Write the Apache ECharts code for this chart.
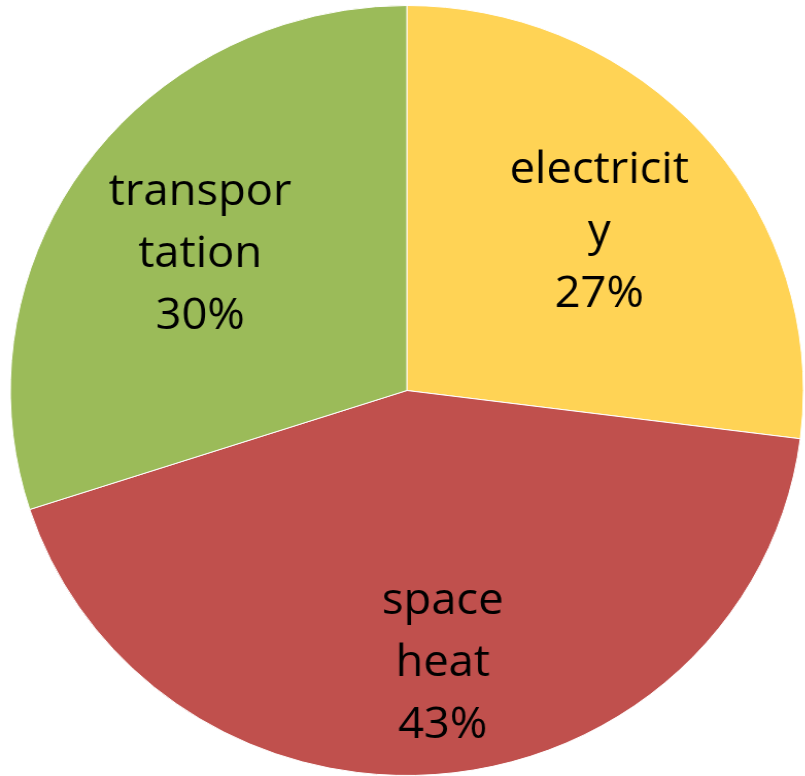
<!DOCTYPE html>
<html>
<head>
<meta charset="utf-8">
<script src="https://cdn.jsdelivr.net/npm/echarts@6/dist/echarts.min.js"></script>
<style>
html,body{margin:0;padding:0;background:#fff;overflow:hidden;}
#wrap{width:805px;height:776px;overflow:hidden;}
#chart{width:782px;height:776px;transform:scaleX(1.03);transform-origin:0 0;}
</style>
</head>
<body>
<div id="wrap"><div id="chart"></div></div>
<script>
var categories = ['electricity', 'space heat', 'transportation'];
var values = [27, 43, 30];
var labelTexts = ['electricit\ny', 'space\nheat', 'transpor\ntation'];
var colors = ['#FFD355', '#C0504D', '#9BBB59'];
var labelShift = [[-3, 9], [11, 21], [4, 13]];

var chart = echarts.init(document.getElementById('chart'), null, {renderer: 'canvas'});

var sliceData = categories.map(function (c, i) {
  return {name: c, value: values[i], itemStyle: {color: colors[i]}};
});
var labelData = categories.map(function (c, i) {
  return {name: c, value: values[i]};
});

var total = values.reduce(function (a, b) { return a + b; }, 0);

chart.setOption({
  animation: false,
  series: [
    {
      type: 'pie',
      center: [395, 390.5],
      radius: [0, 385],
      startAngle: 90,
      clockwise: true,
      silent: true,
      itemStyle: {borderColor: '#ffffff', borderWidth: 1},
      label: {show: false},
      labelLine: {show: false},
      data: sliceData
    },
    {
      type: 'pie',
      center: [395, 390.5],
      radius: [115, 385],
      startAngle: 90,
      clockwise: true,
      silent: true,
      z: 5,
      itemStyle: {color: 'rgba(0,0,0,0)'},
      label: {
        show: true,
        position: 'inside',
        color: '#000000',
        fontFamily: 'Open Sans',
        fontSize: 44,
        lineHeight: 62,
        align: 'center',
        formatter: function (p) {
          return labelTexts[p.dataIndex] + '\n' + Math.round(p.value / total * 100) + '%';
        }
      },
      labelLayout: function (p) {
        var s = labelShift[p.dataIndex];
        return {dx: s[0], dy: s[1]};
      },
      labelLine: {show: false},
      data: labelData
    }
  ]
});
</script>
</body>
</html>
